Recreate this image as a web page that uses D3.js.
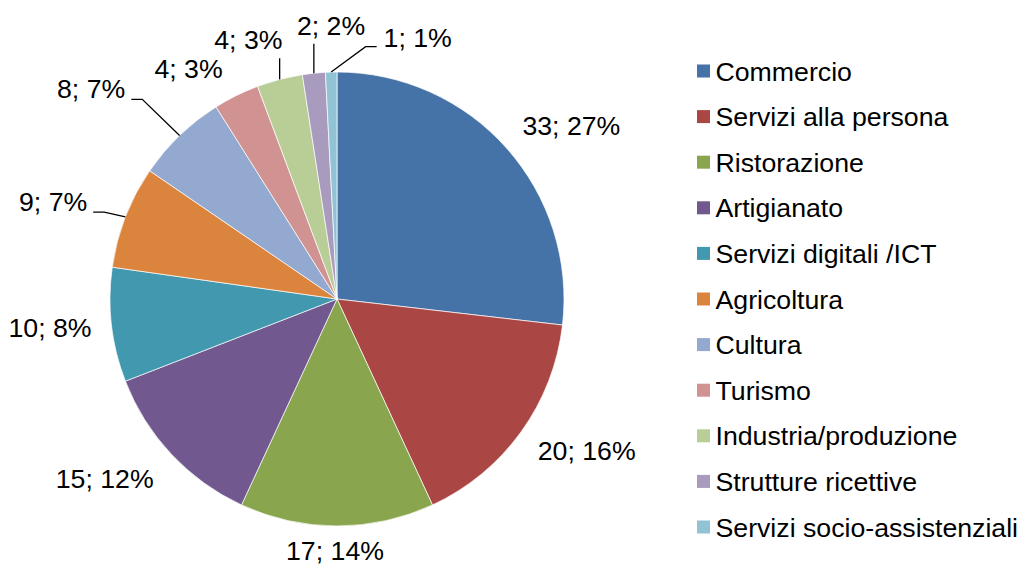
<!DOCTYPE html>
<html>
<head>
<meta charset="utf-8">
<script src="https://cdn.jsdelivr.net/npm/d3@7"></script>
<style>
  body { margin: 0; background: #fff; }
  svg { display: block; font-family: "Liberation Sans", Arial, sans-serif; }
</style>
</head>
<body>
<div id="chart"></div>
<script>
const categories = [
  "Commercio", "Servizi alla persona", "Ristorazione", "Artigianato",
  "Servizi digitali /ICT", "Agricoltura", "Cultura", "Turismo",
  "Industria/produzione", "Strutture ricettive", "Servizi socio-assistenziali"
];
const counts = [33, 20, 17, 15, 10, 9, 8, 4, 4, 2, 1];
const colors = [
  "#4572A7", "#AA4643", "#89A54E", "#71588F", "#4198AF", "#DB843D",
  "#93A9CF", "#D19392", "#B9CD96", "#A99BBD", "#92C3D4"
];
// manual label moves (Excel "best fit" result), px
const labelNudge = [
  [-1, 0], [-1, -4], [-2, -3], [-1, 1], [0, -2], [-19, 0],
  [-38, -23], [-5, -1], [-7, -13], [27, -21], [89, -8]
];

const width = 1021, height = 566;
const cx = 337, cy = 299, radius = 227;
const fontSize = 26.7;

const svg = d3.select("#chart").append("svg")
  .attr("width", width)
  .attr("height", height);

const total = d3.sum(counts);
const pie = d3.pie().sort(null).value(d => d)(counts);
const arc = d3.arc().innerRadius(0).outerRadius(radius);

const g = svg.append("g").attr("transform", `translate(${cx},${cy})`);

g.selectAll("path.slice")
  .data(pie)
  .join("path")
  .attr("class", "slice")
  .attr("d", arc)
  .attr("fill", (d, i) => colors[i])
  .attr("stroke", "#fff")
  .attr("stroke-width", 0.7);

// data labels
const gap = 12, padX = 8, halfH = 15;
const clamp = v => Math.max(-1, Math.min(1, v));

pie.forEach((d, i) => {
  const a = (d.startAngle + d.endAngle) / 2;
  const s = Math.sin(a), c = Math.cos(a);
  const pct = Math.round(d.value / total * 100);
  const txt = g.append("text")
    .attr("text-anchor", "middle")
    .style("font-size", fontSize + "px")
    .attr("fill", "#000")
    .text(`${d.value}; ${pct}%`);
  const w = txt.node().getComputedTextLength();
  const px = s * (radius + gap), py = -c * (radius + gap);
  const fx = clamp(2 * s), fy = clamp(-2 * c);
  const [nx, ny] = labelNudge[i];
  const lx = px + fx * (w / 2 + padX) + nx;
  const ly = py + fy * halfH + ny;
  const base = ly + fontSize * 0.357;
  txt.attr("x", lx).attr("y", base);

  if (Math.hypot(nx, ny) > 12) {
    const ax = s * radius, ay = -c * radius;
    const left = lx - w / 2, right = lx + w / 2;
    let pts;
    if (ax >= left && ax <= right) {
      pts = [[ax, ay], [ax, base + 9]];
    } else if (right < ax) {
      const ex = right + 6, ey = base + 1;
      pts = [[ax, ay], [ex + 11, ey], [ex, ey]];
    } else {
      const ex = left - 7, ey = base;
      pts = [[ax, ay], [ex - 11, ey], [ex, ey]];
    }
    g.append("path")
      .attr("d", d3.line()(pts))
      .attr("fill", "none")
      .attr("stroke", "#000")
      .attr("stroke-width", 1.3);
  }
});

// legend
const legend = svg.append("g").attr("transform", "translate(697,71)");
const rowH = 45.6;
const item = legend.selectAll("g")
  .data(categories)
  .join("g")
  .attr("transform", (d, i) => `translate(0,${i * rowH})`);

item.append("rect")
  .attr("x", 0).attr("y", -6.5)
  .attr("width", 13).attr("height", 13)
  .attr("fill", (d, i) => colors[i]);

item.append("text")
  .attr("x", 18.5)
  .attr("y", fontSize * 0.357)
  .style("font-size", fontSize + "px")
  .attr("fill", "#000")
  .text(d => d);
</script>
</body>
</html>
